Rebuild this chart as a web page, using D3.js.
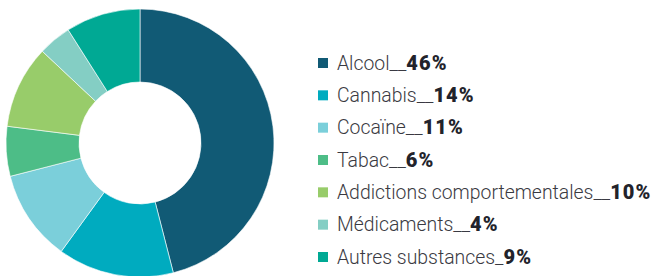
<!DOCTYPE html>
<html>
<head>
<meta charset="utf-8">
<script src="https://cdn.jsdelivr.net/npm/d3@7"></script>
<style>
  html, body { margin: 0; padding: 0; background: #fff; }
  svg { display: block; }
</style>
</head>
<body>
<svg id="chart" width="654" height="276"></svg>
<script>
// donnees
const categories = ['Alcool', 'Cannabis', 'Cocaïne', 'Tabac', 'Addictions comportementales', 'Médicaments', 'Autres substances']
const values = [46, 14, 11, 6, 10, 4, 9]
// le dernier libelle n'a qu'un seul tiret bas dans l'original
const separators = ['__', '__', '__', '__', '__', '__', '_']
const colors = ['#115a75', '#00abbf', '#7bcfda', '#4dbd87', '#98cc6a', '#84cec4', '#00a994']

const svg = d3.select('#chart')

const cx = 140
const cy = 143
const outerR = 134
const innerR = 61

const color = d3.scaleOrdinal().domain(categories).range(colors)

const pie = d3.pie()
  .sort(null)
  .value(function (d, i) { return values[i] })

const arc = d3.arc()
  .innerRadius(innerR)
  .outerRadius(outerR)

const g = svg.append('g')
  .attr('transform', 'translate(' + cx + ',' + cy + ')')

g.selectAll('path')
  .data(pie(categories))
  .enter()
  .append('path')
  .attr('d', arc)
  .attr('fill', function (d) { return color(d.data) })
  .attr('stroke', '#fff')
  .attr('stroke-width', 0.6)

// legende
const rowY = d3.scalePoint()
  .domain(categories)
  .range([63, 257])

const legend = svg.append('g')
  .attr('class', 'legend')

const rows = legend.selectAll('g')
  .data(categories)
  .enter()
  .append('g')
  .attr('transform', function (d) { return 'translate(318,' + rowY(d) + ')' })

rows.append('rect')
  .attr('x', 0)
  .attr('y', -5)
  .attr('width', 10)
  .attr('height', 10)
  .attr('fill', function (d) { return color(d) })

const txt = rows.append('text')
  .attr('x', 19)
  .attr('y', 6.8)
  .attr('font-family', 'Roboto, sans-serif')
  .attr('font-size', 19.4)
  .attr('fill', '#3a3a42')

txt.append('tspan')
  .attr('font-weight', 300)
  .text(function (d, i) { return d + separators[i] })

txt.append('tspan')
  .attr('font-weight', 900)
  .attr('fill', '#22232b')
  .attr('font-size', 20)
  .attr('letter-spacing', 1.1)
  .text(function (d, i) { return values[i] + '%' })
</script>
</body>
</html>
